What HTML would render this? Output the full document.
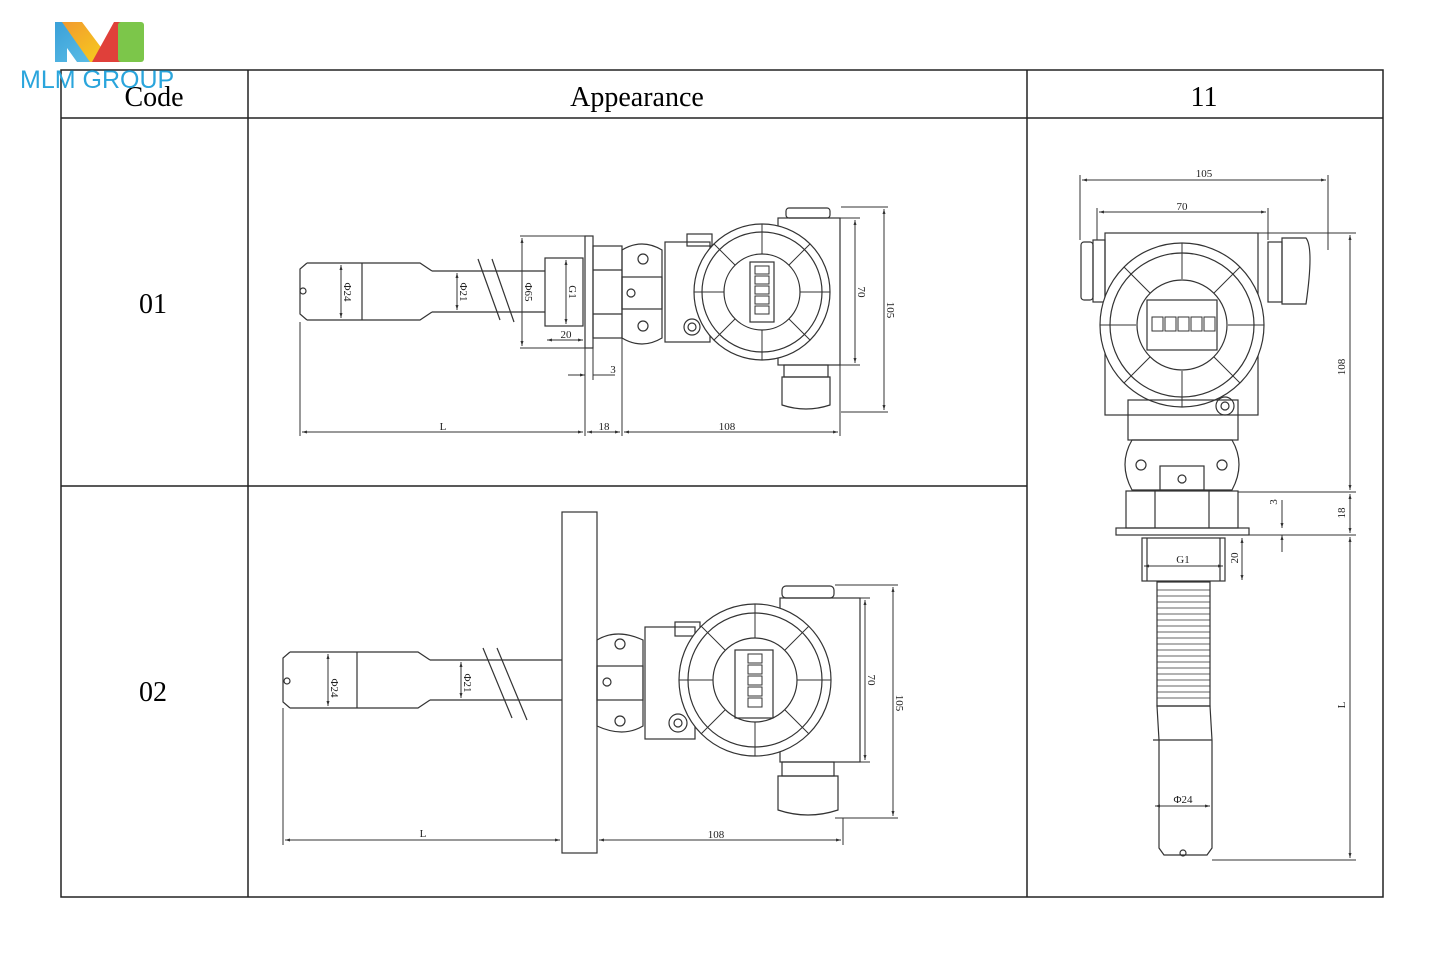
<!DOCTYPE html>
<html><head><meta charset="utf-8"><style>
html,body{margin:0;padding:0;background:#fff;width:1440px;height:957px;overflow:hidden;font-family:"Liberation Serif",serif}
svg{position:absolute;left:0;top:0}
</style></head><body>
<svg width="1440" height="957" viewBox="0 0 1440 957" xmlns="http://www.w3.org/2000/svg">
<defs>
<marker id="a" viewBox="0 0 10 10" refX="10" refY="5" markerWidth="7" markerHeight="5" orient="auto-start-reverse"><path d="M0,2 L10,5 L0,8z" fill="#333"/></marker>
<linearGradient id="g1" x1="0" y1="0" x2="1" y2="1"><stop offset="0" stop-color="#3aa0d8"/><stop offset="1" stop-color="#5fc0e8"/></linearGradient>
<linearGradient id="g2" x1="0" y1="0" x2="1" y2="1"><stop offset="0" stop-color="#f29a2e"/><stop offset="1" stop-color="#f7d21c"/></linearGradient>
</defs>
<!-- table -->
<g stroke="#222" stroke-width="1.5" fill="none">
<rect x="61" y="70" width="1322" height="827"/>
<line x1="61" y1="118" x2="1383" y2="118"/>
<line x1="248" y1="70" x2="248" y2="897"/>
<line x1="1027" y1="70" x2="1027" y2="897"/>
<line x1="61" y1="486" x2="1027" y2="486"/>
</g>
<g font-family="Liberation Serif,serif" font-size="28" fill="#000" text-anchor="middle">
<text x="154" y="106">Code</text>
<text x="637" y="106">Appearance</text>
<text x="1204" y="106">11</text>
<text x="153" y="313">01</text>
<text x="153" y="701">02</text>
</g>
<!-- logo -->
<path d="M55,22 h20 l28,40 v0 h-26 l-10,-14 v14 h-12z" fill="url(#g1)"/>
<path d="M62,22 h20 l30,40 h-22z" fill="url(#g2)"/>
<path d="M92,62 l22,-40 h10 v40z" fill="#e0403a"/>
<rect x="118" y="22" width="26" height="40" rx="3" fill="#7cc64a"/>
<text x="20" y="88" font-family="Liberation Sans,sans-serif" font-size="25" fill="#2aa5dc">MLM GROUP</text>

<g stroke="#333" stroke-width="1.2" fill="none" font-family="Liberation Sans,sans-serif">
<!-- ===== Drawing 01 ===== -->
<path d="M307,263 h113 l12,8 v0 M307,320 h113 l12,-8 M307,263 l-7,6 v45 l7,6"/>
<line x1="362" y1="263" x2="362" y2="320"/><circle cx="303" cy="291" r="3"/>
<path d="M432,271 h113 M432,312 h113"/>
<line x1="478" y1="259" x2="500" y2="320"/><line x1="492" y1="259" x2="514" y2="322"/>
<rect x="545" y="258" width="38" height="68"/>
<rect x="585" y="236" width="8" height="112"/>
<rect x="593" y="246" width="29" height="92"/>
<line x1="593" y1="270" x2="622" y2="270"/><line x1="593" y1="314" x2="622" y2="314"/>
<path d="M622,250 q20,-12 40,0 v88 q-20,12 -40,0z"/>
<rect x="622" y="277" width="40" height="32"/>
<circle cx="643" cy="259" r="5"/><circle cx="631" cy="293" r="4"/><circle cx="643" cy="326" r="5"/>
<rect x="665" y="242" width="45" height="100"/><rect x="687" y="234" width="25" height="12"/>
<circle cx="692" cy="327" r="8"/><circle cx="692" cy="327" r="4"/>
<rect x="778" y="218" width="62" height="147"/>
<circle cx="762" cy="292" r="68" fill="#fff"/><circle cx="762" cy="292" r="60"/><circle cx="762" cy="292" r="38"/>
<g stroke-width="1">
<path d="M762,224 v30 M762,330 v30 M694,292 h30 M800,292 h30 M714,244 l21,21 M810,244 l-21,21 M714,340 l21,-21 M810,340 l-21,-21"/>
</g>
<rect x="750" y="262" width="24" height="60"/>
<g stroke-width="1"><rect x="755" y="266" width="14" height="8"/><rect x="755" y="276" width="14" height="8"/><rect x="755" y="286" width="14" height="8"/><rect x="755" y="296" width="14" height="8"/><rect x="755" y="306" width="14" height="8"/></g>
<rect x="786" y="208" width="44" height="10" rx="3"/>
<rect x="784" y="365" width="44" height="12"/><path d="M782,377 h48 v28 q-24,8 -48,0z"/>
<!-- dims 01 -->
<g stroke-width="1">
<line x1="841" y1="207" x2="888" y2="207"/><line x1="841" y1="412" x2="888" y2="412"/>
<line x1="884" y1="209" x2="884" y2="410" marker-start="url(#a)" marker-end="url(#a)"/>
<line x1="835" y1="218" x2="860" y2="218"/><line x1="835" y1="365" x2="860" y2="365"/>
<line x1="855" y1="220" x2="855" y2="363" marker-start="url(#a)" marker-end="url(#a)"/>
<line x1="341" y1="265" x2="341" y2="318" marker-start="url(#a)" marker-end="url(#a)"/>
<line x1="457" y1="273" x2="457" y2="310" marker-start="url(#a)" marker-end="url(#a)"/>
<line x1="520" y1="236" x2="585" y2="236"/><line x1="520" y1="348" x2="585" y2="348"/>
<line x1="522" y1="238" x2="522" y2="346" marker-start="url(#a)" marker-end="url(#a)"/>
<line x1="566" y1="260" x2="566" y2="324" marker-start="url(#a)" marker-end="url(#a)"/>
<line x1="547" y1="340" x2="583" y2="340" marker-start="url(#a)" marker-end="url(#a)"/>
<line x1="300" y1="322" x2="300" y2="436"/><line x1="585" y1="348" x2="585" y2="436"/><line x1="593" y1="348" x2="593" y2="380"/>
<line x1="622" y1="338" x2="622" y2="436"/><line x1="840" y1="365" x2="840" y2="436"/>
<line x1="302" y1="432" x2="583" y2="432" marker-start="url(#a)" marker-end="url(#a)"/>
<line x1="587" y1="432" x2="620" y2="432" marker-start="url(#a)" marker-end="url(#a)"/>
<line x1="624" y1="432" x2="838" y2="432" marker-start="url(#a)" marker-end="url(#a)"/>
<line x1="568" y1="375" x2="585" y2="375" marker-end="url(#a)"/><line x1="593" y1="375" x2="615" y2="375"/>
</g>
<!-- ===== Drawing 02 ===== -->
<path d="M290,652 h128 l12,8 M290,708 h128 l12,-8 M290,652 l-7,6 v44 l7,6"/>
<line x1="357" y1="652" x2="357" y2="708"/><circle cx="287" cy="681" r="3"/>
<path d="M430,660 h132 M430,700 h132"/>
<line x1="483" y1="648" x2="512" y2="718"/><line x1="497" y1="648" x2="527" y2="720"/>
<rect x="562" y="512" width="35" height="341"/>
<path d="M597,640 q20,-12 46,0 v86 q-20,12 -46,0z"/>
<rect x="597" y="666" width="46" height="34"/>
<circle cx="620" cy="644" r="5"/><circle cx="607" cy="682" r="4"/><circle cx="620" cy="721" r="5"/>
<rect x="645" y="627" width="50" height="112"/><rect x="675" y="622" width="25" height="14"/>
<circle cx="678" cy="723" r="9"/><circle cx="678" cy="723" r="4"/>
<rect x="780" y="598" width="80" height="164"/>
<circle cx="755" cy="680" r="76" fill="#fff"/><circle cx="755" cy="680" r="67"/><circle cx="755" cy="680" r="42"/>
<g stroke-width="1">
<path d="M755,604 v34 M755,722 v34 M679,680 h34 M797,680 h34 M701,626 l24,24 M809,626 l-24,24 M701,734 l24,-24 M809,734 l-24,-24"/>
</g>
<rect x="735" y="650" width="38" height="68"/>
<g stroke-width="1"><rect x="748" y="654" width="14" height="9"/><rect x="748" y="665" width="14" height="9"/><rect x="748" y="676" width="14" height="9"/><rect x="748" y="687" width="14" height="9"/><rect x="748" y="698" width="14" height="9"/></g>
<rect x="782" y="586" width="52" height="12" rx="4"/>
<rect x="782" y="762" width="52" height="14"/><path d="M778,776 h60 v34 q-30,10 -60,0z"/>
<g stroke-width="1">
<line x1="835" y1="585" x2="898" y2="585"/><line x1="835" y1="818" x2="898" y2="818"/>
<line x1="893" y1="587" x2="893" y2="816" marker-start="url(#a)" marker-end="url(#a)"/>
<line x1="858" y1="598" x2="870" y2="598"/><line x1="858" y1="762" x2="870" y2="762"/>
<line x1="865" y1="600" x2="865" y2="760" marker-start="url(#a)" marker-end="url(#a)"/>
<line x1="328" y1="654" x2="328" y2="706" marker-start="url(#a)" marker-end="url(#a)"/>
<line x1="461" y1="662" x2="461" y2="698" marker-start="url(#a)" marker-end="url(#a)"/>
<line x1="283" y1="708" x2="283" y2="845"/><line x1="843" y1="818" x2="843" y2="845"/>
<line x1="285" y1="840" x2="560" y2="840" marker-start="url(#a)" marker-end="url(#a)"/>
<line x1="599" y1="840" x2="841" y2="840" marker-start="url(#a)" marker-end="url(#a)"/>
</g>
<!-- ===== Drawing 11 ===== -->
<rect x="1105" y="233" width="153" height="182"/>
<rect x="1081" y="242" width="12" height="58" rx="3"/><rect x="1093" y="240" width="12" height="62"/>
<rect x="1268" y="242" width="14" height="60"/><path d="M1282,238 h24 q8,10 0,66 h-24z"/>
<circle cx="1182" cy="325" r="82" fill="#fff"/><circle cx="1182" cy="325" r="72"/><circle cx="1182" cy="325" r="45"/>
<g stroke-width="1">
<path d="M1182,243 v36 M1182,371 v36 M1100,325 h36 M1228,325 h36 M1124,267 l26,26 M1240,267 l-26,26 M1124,383 l26,-26 M1240,383 l-26,-26"/>
</g>
<rect x="1147" y="300" width="70" height="50"/>
<g stroke-width="1"><rect x="1152" y="317" width="11" height="14"/><rect x="1165" y="317" width="11" height="14"/><rect x="1178" y="317" width="11" height="14"/><rect x="1191" y="317" width="11" height="14"/><rect x="1204" y="317" width="11" height="14"/></g>
<circle cx="1225" cy="406" r="9"/><circle cx="1225" cy="406" r="4"/>
<rect x="1128" y="400" width="110" height="40"/>
<path d="M1132,440 q-14,24 0,50 h100 q14,-26 0,-50z"/>
<rect x="1160" y="466" width="44" height="24"/>
<circle cx="1141" cy="465" r="5"/><circle cx="1222" cy="465" r="5"/><circle cx="1182" cy="479" r="4"/>
<rect x="1126" y="491" width="112" height="37"/><line x1="1155" y1="491" x2="1155" y2="528"/><line x1="1209" y1="491" x2="1209" y2="528"/>
<rect x="1116" y="528" width="133" height="7"/>
<rect x="1142" y="538" width="83" height="43"/><line x1="1147" y1="538" x2="1147" y2="581"/><line x1="1220" y1="538" x2="1220" y2="581"/>
<rect x="1157" y="582" width="53" height="124"/>
<g stroke-width="0.8">
<path d="M1157,590h53M1157,596h53M1157,602h53M1157,608h53M1157,614h53M1157,620h53M1157,626h53M1157,632h53M1157,638h53M1157,644h53M1157,650h53M1157,656h53M1157,662h53M1157,668h53M1157,674h53M1157,680h53M1157,686h53M1157,692h53M1157,698h53"/>
</g>
<path d="M1157,706 h53 l2,34 v108 l-5,7 h-43 l-5,-7 v-108z"/>
<line x1="1153" y1="740" x2="1212" y2="740"/><circle cx="1183" cy="853" r="3"/>
<g stroke-width="1">
<line x1="1080" y1="175" x2="1080" y2="240"/><line x1="1328" y1="175" x2="1328" y2="250"/>
<line x1="1082" y1="180" x2="1326" y2="180" marker-start="url(#a)" marker-end="url(#a)"/>
<line x1="1097" y1="208" x2="1097" y2="240"/><line x1="1268" y1="208" x2="1268" y2="240"/>
<line x1="1099" y1="212" x2="1266" y2="212" marker-start="url(#a)" marker-end="url(#a)"/>
<line x1="1258" y1="233" x2="1356" y2="233"/><line x1="1238" y1="492" x2="1356" y2="492"/>
<line x1="1249" y1="535" x2="1356" y2="535"/><line x1="1212" y1="860" x2="1356" y2="860"/>
<line x1="1350" y1="235" x2="1350" y2="490" marker-start="url(#a)" marker-end="url(#a)"/>
<line x1="1350" y1="494" x2="1350" y2="533" marker-start="url(#a)" marker-end="url(#a)"/>
<line x1="1350" y1="537" x2="1350" y2="858" marker-start="url(#a)" marker-end="url(#a)"/>
<line x1="1282" y1="500" x2="1282" y2="528" marker-end="url(#a)"/><line x1="1282" y1="535" x2="1282" y2="552" marker-start="url(#a)"/>
<line x1="1242" y1="538" x2="1242" y2="580" marker-start="url(#a)" marker-end="url(#a)"/>
<line x1="1144" y1="566" x2="1223" y2="566" marker-start="url(#a)" marker-end="url(#a)"/>
<line x1="1155" y1="806" x2="1210" y2="806" marker-start="url(#a)" marker-end="url(#a)"/>
</g>
</g>
<!-- dim labels -->
<g font-family="Liberation Serif,serif" font-size="11" fill="#222" text-anchor="middle">
<text x="443" y="430">L</text><text x="604" y="430">18</text><text x="727" y="430">108</text>
<text x="566" y="338">20</text><text x="613" y="373">3</text>
<text transform="translate(344,292) rotate(90)">Φ24</text>
<text transform="translate(460,292) rotate(90)">Φ21</text>
<text transform="translate(525,292) rotate(90)">Φ65</text>
<text transform="translate(569,292) rotate(90)">G1</text>
<text transform="translate(858,292) rotate(90)">70</text>
<text transform="translate(887,310) rotate(90)">105</text>
<text x="423" y="837">L</text><text x="716" y="838">108</text>
<text transform="translate(331,688) rotate(90)">Φ24</text>
<text transform="translate(464,683) rotate(90)">Φ21</text>
<text transform="translate(868,680) rotate(90)">70</text>
<text transform="translate(896,703) rotate(90)">105</text>
<text x="1204" y="177">105</text><text x="1182" y="210">70</text>
<text x="1183" y="563">G1</text><text x="1183" y="803">Φ24</text>
<text transform="translate(1345,367) rotate(-90)">108</text>
<text transform="translate(1345,513) rotate(-90)">18</text>
<text transform="translate(1345,705) rotate(-90)">L</text>
<text transform="translate(1277,502) rotate(-90)">3</text>
<text transform="translate(1238,558) rotate(-90)">20</text>
</g>
</svg>
</body></html>
